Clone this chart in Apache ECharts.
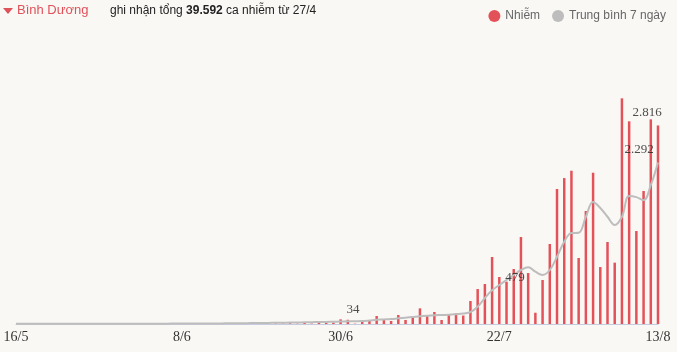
<!DOCTYPE html>
<html>
<head>
<meta charset="utf-8">
<script src="https://cdn.jsdelivr.net/npm/echarts@6/dist/echarts.min.js"></script>
<style>
  html, body { margin: 0; padding: 0; background: #faf8f5; }
  #chart { width: 677px; height: 352px; }
</style>
</head>
<body>
<div id="chart"></div>
<script>
// ngày 16/5 -> 13/8
const months = [[5, 16, 31], [6, 1, 30], [7, 1, 31], [8, 1, 13]]
const dates = []
months.forEach(function (m) {
  for (let d = m[1]; d <= m[2]; d++) dates.push(d + '/' + m[0])
})
const tickIdx = [0, 23, 45, 67, 89]

// số ca nhiễm mỗi ngày
const cases = [
  0, 1, 0, 0, 2, 0, 1, 0, 0, 3,
  0, 1, 2, 0, 0, 1, 0, 3, 0, 2,
  1, 0, 2, 4, 1, 3, 0, 2, 5, 3,
  2, 4, 6, 3, 5, 4, 7, 6, 12, 5,
  14, 6, 15, 18, 20, 66, 60, 5, 34, 47,
  113, 66, 43, 128, 57, 113, 222, 113, 170, 57,
  128, 151, 120, 326, 496, 567, 950, 667, 600, 780,
  1234, 723, 160, 624, 1135, 1915, 2070, 2174, 936, 1603,
  2146, 808, 1163, 870, 3201, 2875, 1319, 1887, 2903, 2816
]
// trung bình 7 ngày
const avg7 = [
  2, 2, 2, 3, 3, 3, 3, 3, 3, 3,
  3, 4, 4, 4, 4, 4, 4, 5, 5, 5,
  5, 5, 6, 6, 6, 7, 7, 8, 8, 9,
  10, 11, 12, 13, 14, 15, 17, 18, 20, 22,
  24, 26, 28, 30, 32, 34, 38, 40, 42, 50,
  60, 65, 70, 80, 90, 100, 110, 118, 124, 128,
  132, 140, 150, 170, 245, 369, 479, 553, 624, 695,
  766, 804, 742, 695, 766, 954, 1167, 1290, 1295, 1521,
  1730, 1645, 1521, 1404, 1521, 1815, 1800, 1758, 1971, 2292
]
// các số được ghi trên biểu đồ
const noteIdx = [47, 66, 89, 89]
const noteVal = [34, 479, 2292, 2816]
const noteShift = [-2, 23, -19, -11]

const fmt = function (v) {
  return String(v).replace(/\B(?=(\d{3})+(?!\d))/g, '.')
}

const chart = echarts.init(document.getElementById('chart'))
chart.setOption({
  animation: false,
  backgroundColor: '#faf8f5',
  grid: { left: 16, right: 19, top: 42, bottom: 28 },
  legend: {
    data: ['Nhiễm', 'Trung bình 7 ngày'],
    right: 6,
    top: 5,
    icon: 'circle',
    itemWidth: 12,
    itemHeight: 12,
    itemGap: 12,
    textStyle: { color: '#666', fontSize: 12, fontFamily: 'Liberation Sans' }
  },
  graphic: [
    {
      type: 'polygon',
      shape: { points: [[3, 8], [13, 8], [8, 14]] },
      style: { fill: '#e0525a' }
    },
    {
      type: 'text',
      left: 17,
      top: 4,
      style: { text: 'Bình Dương', fill: '#e0525a', fontSize: 13, fontFamily: 'Liberation Sans' }
    },
    {
      type: 'text',
      left: 110,
      top: 5,
      style: {
        text: '{a|ghi nhận tổng }{b|39.592}{a| ca nhiễm từ 27/4}',
        rich: {
          a: { fill: '#222', fontSize: 12, fontFamily: 'Liberation Sans' },
          b: { fill: '#222', fontSize: 12, fontWeight: 'bold', fontFamily: 'Liberation Sans' }
        }
      }
    }
  ],
  xAxis: {
    type: 'category',
    data: dates,
    boundaryGap: false,
    axisLine: { lineStyle: { color: '#c6cce0', width: 1 } },
    axisTick: { show: false },
    axisLabel: {
      interval: function (index) { return tickIdx.indexOf(index) >= 0 },
      color: '#333',
      fontSize: 14,
      margin: 6,
      fontFamily: 'Liberation Serif',
      showMinLabel: true,
      showMaxLabel: true
    }
  },
  yAxis: {
    type: 'value',
    min: 0,
    max: 4000,
    show: false,
    splitLine: { show: false }
  },
  series: [
    {
      name: 'Nhiễm',
      type: 'bar',
      data: cases,
      barWidth: 2.5,
      itemStyle: { color: '#e35259' },
      z: 2
    },
    {
      name: 'Trung bình 7 ngày',
      type: 'line',
      data: avg7,
      smooth: 0.4,
      symbol: 'none',
      lineStyle: { color: '#bdbdbd', width: 2 },
      itemStyle: { color: '#bdbdbd' },
      z: 3
    },
    {
      name: 'nhan',
      type: 'scatter',
      symbolSize: 2,
      itemStyle: { color: 'rgba(0,0,0,0)' },
      silent: true,
      z: 4,
      data: noteIdx.map(function (ix, k) {
        return {
          value: [ix, noteVal[k]],
          label: {
            show: true,
            position: 'top',
            distance: 5,
            offset: [noteShift[k], 0],
            formatter: fmt(noteVal[k]),
            color: '#222',
            fontSize: 13,
            fontFamily: 'Liberation Serif'
          }
        }
      })
    }
  ]
})
</script>
</body>
</html>
